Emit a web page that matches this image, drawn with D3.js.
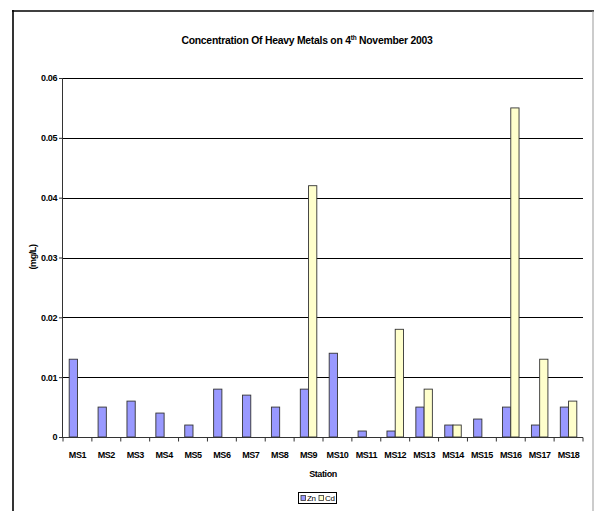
<!DOCTYPE html>
<html>
<head>
<meta charset="utf-8">
<script src="https://cdn.jsdelivr.net/npm/d3@7/dist/d3.min.js"></script>
<style>
  html, body { margin: 0; padding: 0; background: #fff; }
  svg text { font-family: "Liberation Sans", Arial, sans-serif; font-weight: bold; fill: #000; }
</style>
</head>
<body>
<svg id="chart" width="594" height="511"></svg>
<script>
// Station names along the x axis
const stations = ["MS1","MS2","MS3","MS4","MS5","MS6","MS7","MS8","MS9",
                  "MS10","MS11","MS12","MS13","MS14","MS15","MS16","MS17","MS18"];
// Zinc concentration (mg/L)
const zn = [0.013,0.005,0.006,0.004,0.002,0.008,0.007,0.005,0.008,
            0.014,0.001,0.001,0.005,0.002,0.003,0.005,0.002,0.005];
// Cadmium concentration (mg/L)
const cd = [0,0,0,0,0,0,0,0,0.042,
            0,0,0.018,0.008,0.002,0,0.055,0.013,0.006];
const seriesNames = ["Zn","Cd"];
const seriesColors = ["#9999FF","#FFFFCC"];
const yTicks = [0,0.01,0.02,0.03,0.04,0.05,0.06];

const svg = d3.select("#chart");

// Outer chart frame
svg.append("line").attr("x1",13).attr("x2",13).attr("y1",10).attr("y2",520)
  .attr("stroke","#000").attr("stroke-width",1.6);
svg.append("line").attr("x1",12).attr("x2",594).attr("y1",11).attr("y2",11)
  .attr("stroke","#000").attr("stroke-width",1.6);
svg.append("line").attr("x1",593).attr("x2",593).attr("y1",11).attr("y2",520)
  .attr("stroke","#999").attr("stroke-width",1);

const plot = { left: 63, right: 583, top: 78, bottom: 437 };

const x0 = d3.scaleBand().domain(stations).range([plot.left, plot.right]).paddingInner(0).paddingOuter(0);
const y = d3.scaleLinear().domain([0, 0.06]).range([plot.bottom, plot.top]);

// Gridlines
svg.append("g").selectAll("line").data(yTicks.slice(1)).join("line")
  .attr("x1", plot.left).attr("x2", plot.right)
  .attr("y1", d => Math.round(y(d)) + 0.5).attr("y2", d => Math.round(y(d)) + 0.5)
  .attr("stroke","#000").attr("stroke-width",1);

// Bars: gap width 150% between clusters
const cw = x0.bandwidth();
const bw = cw / 3.5;
const rows = stations.map((s, i) => ({ s, vals: [zn[i], cd[i]] }));
const groups = svg.append("g").selectAll("g").data(rows).join("g")
  .attr("transform", d => `translate(${x0(d.s) + bw * 0.75},0)`);
groups.selectAll("rect").data(d => d.vals.map((v, k) => ({ v, k })).filter(o => o.v > 0)).join("rect")
  .attr("x", o => o.k * bw)
  .attr("width", bw)
  .attr("y", o => y(o.v))
  .attr("height", o => y(0) - y(o.v))
  .attr("fill", o => seriesColors[o.k])
  .attr("stroke", "#333")
  .attr("stroke-width", 0.9);

// Y axis
const yAxis = d3.axisLeft(y).tickValues(yTicks)
  .tickFormat(d => d === 0 ? "0" : d3.format(".2f")(d)).tickSize(4).tickPadding(2);
const gy = svg.append("g").attr("transform", `translate(${plot.left},0)`).call(yAxis);
gy.select(".domain").attr("stroke","#333").attr("d", `M-0.5,${plot.top}V${plot.bottom}`);
gy.selectAll(".tick line").attr("stroke","#333");
gy.selectAll("text").style("font-size","9px").attr("letter-spacing","-0.4px");

// X axis
const gx = svg.append("g").attr("transform", `translate(0,${plot.bottom + 0.5})`);
gx.append("line").attr("x1", plot.left).attr("x2", plot.right).attr("stroke","#333");
gx.selectAll("line.t").data(d3.range(stations.length + 1)).join("line").attr("class","t")
  .attr("x1", i => plot.left + i * cw).attr("x2", i => plot.left + i * cw)
  .attr("y1", 0).attr("y2", 4).attr("stroke","#333");
gx.selectAll("text").data(stations).join("text")
  .attr("x", d => x0(d) + cw / 2).attr("y", 20)
  .attr("text-anchor","middle").style("font-size","9px").attr("letter-spacing","-0.45px")
  .text(d => d);

// Axis titles
svg.append("text").attr("x", 323).attr("y", 477).attr("text-anchor","middle")
  .style("font-size","9px").attr("letter-spacing","-0.4px").text("Station");
svg.append("text").attr("transform","translate(36,257) rotate(-90)").attr("text-anchor","middle")
  .style("font-size","9px").attr("letter-spacing","-0.4px").text("(mg/L)");

// Title with superscript
const title = svg.append("text").attr("x", 307).attr("y", 44).attr("text-anchor","middle")
  .style("font-size","10.4px").attr("letter-spacing","-0.25px");
title.append("tspan").text("Concentration Of Heavy Metals on 4");
title.append("tspan").attr("dy", -4).style("font-size","6.5px").text("th");
title.append("tspan").attr("dy", 4).text(" November 2003");

// Legend
const lg = svg.append("g").attr("transform","translate(298,492)");
lg.append("rect").attr("x",0.5).attr("y",0.5).attr("width",38).attr("height",11)
  .attr("fill","#fff").attr("stroke","#000").attr("stroke-width",1);
seriesNames.forEach((n, k) => {
  const ox = 3 + k * 18;
  lg.append("rect").attr("x", ox).attr("y", 3.5).attr("width", 4.5).attr("height", 5)
    .attr("fill", seriesColors[k]).attr("stroke","#333").attr("stroke-width",0.8);
  lg.append("text").attr("x", ox + 6).attr("y", 9).style("font-size","8px")
    .style("font-weight","normal").attr("letter-spacing","-0.4px").text(n);
});
</script>
</body>
</html>
